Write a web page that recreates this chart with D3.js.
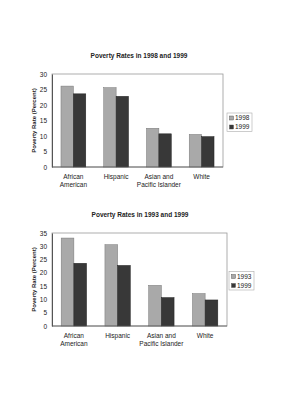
<!DOCTYPE html>
<html>
<head>
<meta charset="utf-8">
<script src="https://cdn.jsdelivr.net/npm/d3@7"></script>
<style>
  body { margin: 0; background: #fff; }
  text { font-family: Arial, "Liberation Sans", sans-serif; fill: #222; }
</style>
</head>
<body>
<div id="chart"></div>
<script>
const categories = [["African", "American"], ["Hispanic"], ["Asian and", "Pacific Islander"], ["White"]];
const years1 = ["1998", "1999"];
const rates1998 = [26.1, 25.6, 12.5, 10.5];
const rates1999 = [23.6, 22.8, 10.7, 9.8];
const years2 = ["1993", "1999"];
const rates1993 = [33.1, 30.6, 15.3, 12.2];
const ticks1 = [0, 5, 10, 15, 20, 25, 30];
const ticks2 = [0, 5, 10, 15, 20, 25, 30, 35];

const colors = ["#a9a9a9", "#383838"];

const svg = d3.select("#chart").append("svg")
  .attr("width", 308).attr("height", 400);

function drawChart(cfg) {
  const g = svg.append("g");
  const x = d3.scaleBand().domain(d3.range(categories.length))
    .range([cfg.left, cfg.right]).paddingInner(0.42).paddingOuter(0.21);
  const sub = d3.scaleBand().domain([0, 1]).range([0, x.bandwidth()]);
  const y = d3.scaleLinear().domain([0, cfg.max]).range([cfg.bottom, cfg.top]);

  // title
  g.append("text")
    .attr("x", cfg.titleX).attr("y", cfg.titleY)
    .attr("text-anchor", "middle")
    .attr("font-size", 6.5).attr("font-weight", "bold")
    .text(cfg.title);

  // plot frame
  g.append("rect")
    .attr("x", cfg.left).attr("y", cfg.top)
    .attr("width", cfg.right - cfg.left).attr("height", cfg.bottom - cfg.top)
    .attr("fill", "none").attr("stroke", "#999").attr("stroke-width", 0.8);

  // bars
  const series = [cfg.a, cfg.b];
  series.forEach((vals, si) => {
    g.selectAll(null)
      .data(vals)
      .join("rect")
      .attr("x", (d, i) => x(i) + sub(si))
      .attr("y", d => y(d))
      .attr("width", sub.bandwidth())
      .attr("height", d => y(0) - y(d))
      .attr("fill", colors[si])
      .attr("stroke", si ? "#222" : "#777")
      .attr("stroke-width", 0.5);
  });

  // y axis
  const yAxis = g.append("g")
    .attr("transform", `translate(${cfg.left},0)`)
    .call(d3.axisLeft(y).tickValues(cfg.ticks).tickSize(0).tickPadding(5));
  yAxis.select(".domain").attr("stroke", "#555");
  yAxis.selectAll("text").attr("font-size", 6.5).attr("fill", "#444")
    .attr("font-family", "Arial, 'Liberation Sans', sans-serif");

  // x axis line
  g.append("line")
    .attr("x1", cfg.left).attr("x2", cfg.right)
    .attr("y1", cfg.bottom).attr("y2", cfg.bottom)
    .attr("stroke", "#555").attr("stroke-width", 0.8);

  // category labels
  g.selectAll(null)
    .data(categories)
    .join("text")
    .attr("text-anchor", "middle")
    .attr("font-size", 6.5)
    .attr("x", (d, i) => x(i) + x.bandwidth() / 2)
    .attr("y", cfg.bottom + 12)
    .selectAll("tspan")
    .data(d => d)
    .join("tspan")
    .attr("x", function () { return this.parentNode.getAttribute("x"); })
    .attr("dy", (d, i) => i ? 8 : 0)
    .text(d => d);

  // y label
  g.append("text")
    .attr("transform", `translate(${cfg.left - 16},${(cfg.top + cfg.bottom) / 2}) rotate(-90)`)
    .attr("text-anchor", "middle")
    .attr("font-size", 6).attr("font-weight", "bold")
    .text("Poverty Rate (Percent)");

  // legend
  const lg = g.append("g").attr("transform", `translate(${cfg.legX},${cfg.legY})`);
  lg.append("rect")
    .attr("width", 25).attr("height", 18.5)
    .attr("fill", "#fff").attr("stroke", "#aaa").attr("stroke-width", 0.6);
  cfg.years.forEach((yr, i) => {
    lg.append("rect")
      .attr("x", 2.5).attr("y", 3 + i * 9)
      .attr("width", 4).attr("height", 4)
      .attr("fill", colors[i]).attr("stroke", "#444").attr("stroke-width", 0.4);
    lg.append("text")
      .attr("x", 8).attr("y", 7 + i * 9)
      .attr("font-size", 6.5)
      .text(yr);
  });
}

drawChart({
  title: "Poverty Rates in 1998 and 1999", titleX: 139, titleY: 57.5,
  left: 52, right: 223, top: 74, bottom: 167, max: 30, ticks: ticks1,
  a: rates1998, b: rates1999, years: years1, legX: 227, legY: 113
});

drawChart({
  title: "Poverty Rates in 1993 and 1999", titleX: 140, titleY: 216.5,
  left: 52, right: 227, top: 233, bottom: 326, max: 35, ticks: ticks2,
  a: rates1993, b: rates1999, years: years2, legX: 229, legY: 271.5
});
</script>
</body>
</html>
